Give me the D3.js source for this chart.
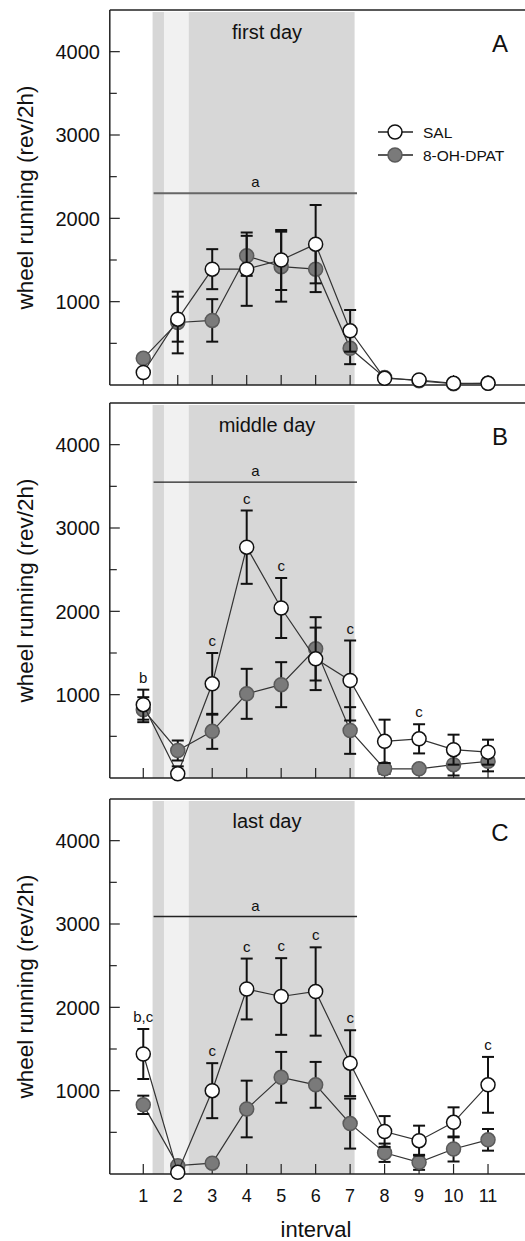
<!DOCTYPE html>
<html>
<head>
<meta charset="utf-8">
<script src="https://cdn.jsdelivr.net/npm/d3@7"></script>
<style>
  body { margin: 0; background: #fff; }
  svg { font-family: "Liberation Sans", Arial, sans-serif; display: block; }
</style>
</head>
<body>
<svg id="chart" width="525" height="1241"></svg>
<script>
// intervals 1..11
const intervals = [1, 2, 3, 4, 5, 6, 7, 8, 9, 10, 11];
const yTicks = [1000, 2000, 3000, 4000];
const yMinor = [500, 1500, 2500, 3500];

// panel A - first day
const salA     = [150, 790, 1390, 1390, 1500, 1690, 650, 80, 60, 20, 20];
const salErrA  = [0, 270, 240, 440, 360, 470, 250, 0, 0, 0, 0];
const dpatA    = [320, 750, 775, 1550, 1420, 1390, 440, 90, 50, 15, 20];
const dpatErrA = [0, 370, 255, 240, 420, 275, 190, 0, 0, 0, 0];
const sigA     = ["", "", "", "", "", "", "", "", "", "", ""];

// panel B - middle day
const salB     = [880, 50, 1130, 2770, 2040, 1430, 1170, 440, 470, 340, 310];
const salErrB  = [180, 90, 370, 440, 360, 375, 480, 260, 175, 180, 150];
const dpatB    = [820, 330, 560, 1010, 1120, 1550, 570, 110, 110, 160, 200];
const dpatErrB = [150, 120, 210, 300, 270, 380, 280, 60, 0, 130, 120];
const sigB     = ["b", "", "c", "c", "c", "", "c", "", "c", "", ""];

// panel C - last day
const salC     = [1440, 20, 1000, 2220, 2130, 2190, 1330, 510, 400, 620, 1070];
const salErrC  = [300, 0, 330, 365, 460, 530, 395, 185, 180, 180, 335];
const dpatC    = [830, 100, 130, 780, 1160, 1070, 605, 255, 140, 300, 410];
const dpatErrC = [110, 0, 0, 340, 305, 275, 300, 110, 90, 150, 130];
const sigC     = ["b,c", "", "c", "c", "c", "c", "c", "", "", "", "c"];

const titles   = ["first day", "middle day", "last day"];
const letters  = ["A", "B", "C"];
const aLevels  = [2300, 3550, 3090];
const seriesNames = ["SAL", "8-OH-DPAT"];

// layout
const panelTops = [10, 403, 799];
const panelH = 375;
const xL = 108.8, xR = 522.5;

const svg = d3.select("#chart");
const x = d3.scaleLinear().domain([0, 12]).range([xL, xR]);

const panels = [
  {sal: salA, salErr: salErrA, dpat: dpatA, dpatErr: dpatErrA, sig: sigA},
  {sal: salB, salErr: salErrB, dpat: dpatB, dpatErr: dpatErrB, sig: sigB},
  {sal: salC, salErr: salErrC, dpat: dpatC, dpatErr: dpatErrC, sig: sigC}
];
const aStyle = [{c: "#666", w: 2}, {c: "#222", w: 1.3}, {c: "#222", w: 1.3}];

panels.forEach((p, i) => {
  const top = panelTops[i], bottom = top + panelH;
  const y = d3.scaleLinear().domain([0, 4500]).range([bottom, top]);
  const g = svg.append("g");

  // shaded bands
  g.append("rect").attr("x", x(1.27)).attr("width", x(7.13) - x(1.27))
    .attr("y", top + 2).attr("height", bottom - top - 2).attr("fill", "#d7d7d7");
  g.append("rect").attr("x", x(1.6)).attr("width", x(2.32) - x(1.6))
    .attr("y", top + 2).attr("height", bottom - top - 2).attr("fill", "#f1f1f1");

  // frame
  g.append("line").attr("x1", xL + 1).attr("x2", 525).attr("y1", top).attr("y2", top)
    .attr("stroke", "#222").attr("stroke-width", 1.5);
  g.append("line").attr("x1", xL + 1).attr("x2", 525).attr("y1", bottom).attr("y2", bottom)
    .attr("stroke", "#222").attr("stroke-width", 1.5);
  g.append("line").attr("x1", xL + 1).attr("x2", xL + 1).attr("y1", top).attr("y2", bottom)
    .attr("stroke", "#222").attr("stroke-width", 1.5);

  // y ticks (inward)
  g.selectAll(".ymaj").data(yTicks).enter().append("line")
    .attr("x1", xL + 1).attr("x2", xL + 11).attr("y1", d => y(d)).attr("y2", d => y(d))
    .attr("stroke", "#222").attr("stroke-width", 1.2);
  g.selectAll(".ymin").data(yMinor).enter().append("line")
    .attr("x1", xL + 1).attr("x2", xL + 8).attr("y1", d => y(d)).attr("y2", d => y(d))
    .attr("stroke", "#222").attr("stroke-width", 1.2);
  g.selectAll(".ylab").data(yTicks).enter().append("text")
    .attr("x", 100).attr("y", d => y(d)).attr("dy", "0.36em")
    .attr("text-anchor", "end").style("font-size", "20px").attr("fill", "#111")
    .text(d => d);

  // x ticks (inward)
  g.selectAll(".xt").data(intervals).enter().append("line")
    .attr("x1", d => x(d)).attr("x2", d => x(d)).attr("y1", bottom).attr("y2", bottom - 10)
    .attr("stroke", "#222").attr("stroke-width", 1.2);

  // y axis title
  g.append("text")
    .attr("transform", `translate(33,${(top + bottom) / 2}) rotate(-90)`)
    .attr("text-anchor", "middle").style("font-size", "22.5px").attr("fill", "#111")
    .text("wheel running (rev/2h)");

  // title and letter
  g.append("text").attr("x", 267).attr("y", top + 29).attr("text-anchor", "middle")
    .style("font-size", "20px").attr("fill", "#111").text(titles[i]);
  g.append("text").attr("x", 500).attr("y", top + 42).attr("text-anchor", "middle")
    .style("font-size", "24px").attr("fill", "#111").text(letters[i]);

  // significance line "a"
  g.append("line").attr("x1", x(1.3)).attr("x2", x(7.2))
    .attr("y1", y(aLevels[i])).attr("y2", y(aLevels[i]))
    .attr("stroke", aStyle[i].c).attr("stroke-width", aStyle[i].w);
  g.append("text").attr("x", (x(1.3) + x(7.2)) / 2).attr("y", y(aLevels[i]) - 6)
    .attr("text-anchor", "middle").style("font-size", "15px").attr("fill", "#111").text("a");

  const line = d3.line().x((d, k) => x(intervals[k])).y(d => y(d));

  const drawSeries = (vals, errs, fill, stroke) => {
    g.append("path").datum(vals).attr("d", line)
      .attr("fill", "none").attr("stroke", "#333").attr("stroke-width", 1.2);
    const eb = g.append("g");
    vals.forEach((v, k) => {
      const e = errs[k];
      if (!e) return;
      const cx = x(intervals[k]);
      eb.append("line").attr("x1", cx).attr("x2", cx).attr("y1", y(v + e)).attr("y2", y(Math.max(0, v - e)))
        .attr("stroke", "#111").attr("stroke-width", 2);
      [v + e, v - e].forEach(ev => {
        if (ev < 0) return;
        eb.append("line").attr("x1", cx - 6).attr("x2", cx + 6).attr("y1", y(ev)).attr("y2", y(ev))
          .attr("stroke", "#111").attr("stroke-width", 2);
      });
    });
    g.selectAll(null).data(vals).enter().append("circle")
      .attr("cx", (d, k) => x(intervals[k])).attr("cy", d => y(d)).attr("r", 7)
      .attr("fill", fill).attr("stroke", stroke).attr("stroke-width", 1.5);
  };
  drawSeries(p.dpat, p.dpatErr, "#7a7a7a", "#5a5a5a");
  drawSeries(p.sal, p.salErr, "#fff", "#111");

  // significance letters
  p.sig.forEach((s, k) => {
    if (!s) return;
    const topVal = Math.max(p.sal[k] + p.salErr[k], p.dpat[k] + p.dpatErr[k]);
    g.append("text").attr("x", x(intervals[k])).attr("y", y(topVal) - 7)
      .attr("text-anchor", "middle").style("font-size", "15px").attr("fill", "#111").text(s);
  });

  // legend only in panel A
  if (i === 0) {
    const leg = [{y: 132, fill: "#fff", stroke: "#111"}, {y: 155, fill: "#7a7a7a", stroke: "#5a5a5a"}];
    leg.forEach((l, k) => {
      g.append("line").attr("x1", 378).attr("x2", 413).attr("y1", l.y).attr("y2", l.y)
        .attr("stroke", "#222").attr("stroke-width", 1.3);
      g.append("circle").attr("cx", 395).attr("cy", l.y).attr("r", 7)
        .attr("fill", l.fill).attr("stroke", l.stroke).attr("stroke-width", 1.5);
      g.append("text").attr("x", 423).attr("y", l.y).attr("dy", "0.36em")
        .style("font-size", "15.5px").attr("fill", "#111").text(seriesNames[k]);
    });
  }

  // x tick labels on last panel
  if (i === 2) {
    g.selectAll(".xl").data(intervals).enter().append("text")
      .attr("x", d => x(d)).attr("y", 1202).attr("text-anchor", "middle")
      .style("font-size", "18px").attr("fill", "#111").text(d => d);
    g.append("text").attr("x", 316).attr("y", 1237).attr("text-anchor", "middle")
      .style("font-size", "22px").attr("fill", "#111").text("interval");
  }
});
</script>
</body>
</html>
